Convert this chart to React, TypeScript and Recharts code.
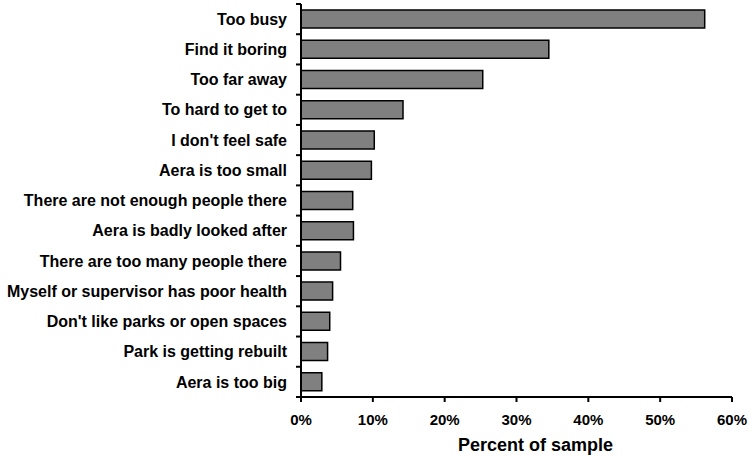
import React from "react";
import { BarChart, Bar, XAxis, YAxis } from "recharts";

const categories = [
  "Too busy",
  "Find it boring",
  "Too far away",
  "To hard to get to",
  "I don't feel safe",
  "Aera is too small",
  "There are not enough people there",
  "Aera is badly looked after",
  "There are too many people there",
  "Myself or supervisor has poor health",
  "Don't like parks or open spaces",
  "Park is getting rebuilt",
  "Aera is too big",
];
const values = [56.2, 34.5, 25.3, 14.2, 10.2, 9.8, 7.2, 7.3, 5.5, 4.4, 4.0, 3.7, 2.9];
const xTicks = [0, 10, 20, 30, 40, 50, 60];

const data = categories.map((name, i) => ({ name, value: values[i] }));

const FONT = "'Liberation Sans', Arial, Helvetica, sans-serif";
const CHART_H = 456;
const MARGIN_TOP = 4;
const X_AXIS_H = 59;
const TICK_SIZE = 5;
const TICK_MARGIN = 9;

function CategoryTick(props: any) {
  const { x, y, payload, index, visibleTicksCount } = props;
  const plotH = CHART_H - MARGIN_TOP - X_AXIS_H;
  const half =
    payload && payload.offset ? payload.offset : plotH / categories.length / 2;
  const axisX = x + TICK_SIZE + TICK_MARGIN;
  const count = visibleTicksCount || categories.length;
  return (
    <g>
      <line
        x1={axisX - TICK_SIZE}
        x2={axisX}
        y1={y - half}
        y2={y - half}
        stroke="#000"
        strokeWidth={2}
      />
      {index === count - 1 && (
        <line
          x1={axisX - TICK_SIZE}
          x2={axisX}
          y1={y + half}
          y2={y + half}
          stroke="#000"
          strokeWidth={2}
        />
      )}
      <text
        x={x}
        y={y}
        dy="0.355em"
        textAnchor="end"
        fill="#000"
        fontSize={16}
        fontWeight="bold"
        fontFamily={FONT}
      >
        {payload.value}
      </text>
    </g>
  );
}

export default function App() {
  return (
    <div style={{ position: "absolute", left: 0, top: 0, background: "#fff" }}>
      <BarChart
        width={753}
        height={CHART_H}
        data={data}
        layout="vertical"
        margin={{ top: MARGIN_TOP, right: 21, bottom: 0, left: 0 }}
        barCategoryGap="20%"
      >
        <YAxis
          type="category"
          dataKey="name"
          width={301}
          tickLine={false}
          tickSize={TICK_SIZE}
          tickMargin={TICK_MARGIN}
          axisLine={{ stroke: "#000", strokeWidth: 2 }}
          tick={<CategoryTick />}
          interval={0}
        />
        <XAxis
          type="number"
          domain={[0, 60]}
          ticks={xTicks}
          tickFormatter={(v) => `${v}%`}
          height={X_AXIS_H}
          tickSize={5}
          tickMargin={12}
          axisLine={{ stroke: "#000", strokeWidth: 2 }}
          tickLine={{ stroke: "#000", strokeWidth: 2 }}
          tick={{ fill: "#000", fontSize: 15, fontWeight: "bold", fontFamily: FONT }}
          label={{
            value: "Percent of sample",
            position: "insideBottom",
            offset: 5,
            dx: 19,
            style: { fill: "#000", fontSize: 18, fontWeight: "bold", fontFamily: FONT },
          }}
        />
        <Bar
          dataKey="value"
          fill="#808080"
          stroke="#000"
          strokeWidth={1.5}
          isAnimationActive={false}
        />
      </BarChart>
    </div>
  );
}
